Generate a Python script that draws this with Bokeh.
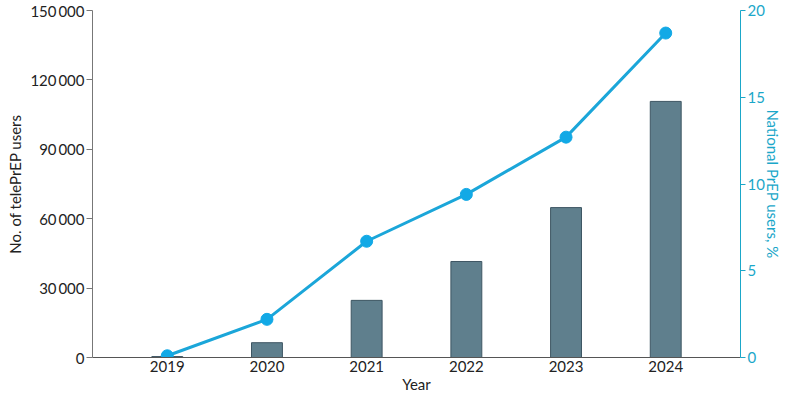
from bokeh.plotting import figure
from bokeh.models import Range1d, LinearAxis, FixedTicker, ColumnDataSource
from bokeh.embed import file_html
from bokeh.resources import INLINE

years = [2019, 2020, 2021, 2022, 2023, 2024]
teleprep_users = [400, 6400, 24700, 41500, 64800, 110700]
national_prep_pct = [0.1, 2.2, 6.7, 9.4, 12.7, 18.7]
left_ticks = [0, 30000, 60000, 90000, 120000, 150000]
left_tick_labels = ["0", "30\u2009000", "60\u2009000", "90\u2009000", "120\u2009000", "150\u2009000"]
right_ticks = [0, 5, 10, 15, 20]

FONT = "Lato"
TEAL = "#1ba7c9"
LINE = "#1ba6d9"
MARK = "#12a9e6"
TXT = "#222222"

X0, X1 = 2018.25, 2024.75
Y0, Y1 = 0, 150000

src = ColumnDataSource(dict(year=years, users=teleprep_users, pct=national_prep_pct))

p = figure(width=784, height=396, output_backend="svg", toolbar_location=None,
           x_range=Range1d(X0, X1), y_range=Range1d(Y0, Y1),
           min_border_left=92, min_border_right=42, min_border_top=10, min_border_bottom=39)
p.outline_line_color = None
p.xgrid.visible = False
p.ygrid.visible = False
p.extra_y_ranges = {"pct": Range1d(0, 20)}

p.vbar(x="year", top="users", width=0.31, source=src,
       fill_color="#5f7f8d", line_color="#3e5663", line_width=1)
p.line(x="year", y="pct", source=src, y_range_name="pct", line_color=LINE, line_width=3)
p.scatter(x="year", y="pct", source=src, y_range_name="pct", size=12,
          fill_color=MARK, line_color=MARK)

xa = p.xaxis[0]
xa.ticker = FixedTicker(ticks=years)
xa.axis_label = "Year"
xa.major_tick_line_color = None
xa.minor_tick_line_color = None
xa.major_tick_in = 0
xa.major_tick_out = 0
xa.axis_line_color = "#555555"
xa.major_label_standoff = 3
xa.axis_label_standoff = 0

ya = p.yaxis[0]
ya.ticker = FixedTicker(ticks=left_ticks)
ya.major_label_overrides = {t: l for t, l in zip(left_ticks, left_tick_labels)}
ya.axis_label = "No. of telePrEP users"
ya.minor_tick_line_color = None
ya.major_tick_in = 0
ya.major_tick_out = 6
ya.axis_line_color = "#777777"
ya.major_tick_line_color = "#777777"
ya.major_label_standoff = 2
ya.axis_label_standoff = 3

ra = LinearAxis(y_range_name="pct", ticker=FixedTicker(ticks=right_ticks),
                axis_label="National PrEP users, %")
ra.minor_tick_line_color = None
ra.major_tick_in = 0
ra.major_tick_out = 5
ra.axis_line_color = TEAL
ra.major_tick_line_color = TEAL
ra.major_label_text_color = TEAL
ra.axis_label_text_color = TEAL
ra.major_label_standoff = 2
ra.axis_label_standoff = -4
p.add_layout(ra, "right")

for ax in (xa, ya, ra):
    ax.major_label_text_font = FONT
    ax.axis_label_text_font = FONT
    ax.major_label_text_font_size = "15px"
    ax.axis_label_text_font_size = "15px"
    ax.axis_label_text_font_style = "normal"
for ax in (xa, ya):
    ax.major_label_text_color = TXT
    ax.axis_label_text_color = TXT

open("out.html", "w").write(file_html(p, INLINE))
